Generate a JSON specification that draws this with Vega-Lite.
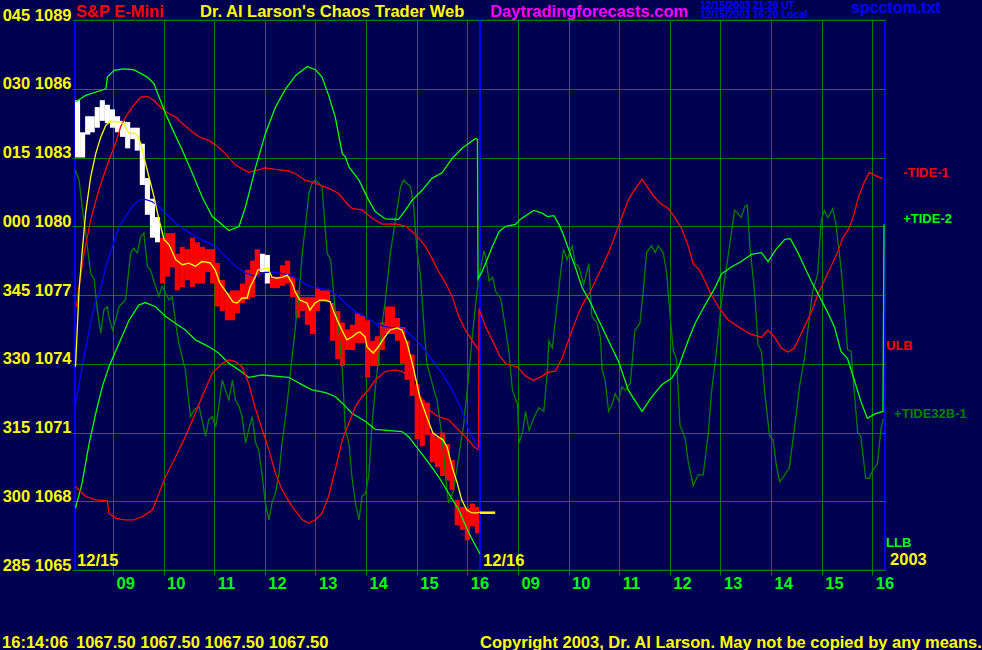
{
  "$schema": "https://vega.github.io/schema/vega-lite/v6.json",
  "width": 810,
  "height": 550,
  "autosize": {"type": "none"},
  "padding": {"left": 75, "top": 20, "right": 97, "bottom": 80},
  "background": "#000050",
  "config": {
    "view": {"stroke": "#0000ff", "strokeWidth": 2},
    "font": "Liberation Sans"
  },
  "datasets": {
    "barsW": [
      {"t": 8.30, "hi": 1085.5, "lo": 1083.0},
      {"t": 8.40, "hi": 1084.1, "lo": 1083.0},
      {"t": 8.50, "hi": 1084.8, "lo": 1084.0},
      {"t": 8.59, "hi": 1084.8, "lo": 1084.1},
      {"t": 8.69, "hi": 1085.2, "lo": 1084.3},
      {"t": 8.79, "hi": 1085.5, "lo": 1084.6},
      {"t": 8.89, "hi": 1085.3, "lo": 1084.5},
      {"t": 8.99, "hi": 1085.1, "lo": 1084.3},
      {"t": 9.09, "hi": 1084.8, "lo": 1084.1},
      {"t": 9.19, "hi": 1084.6, "lo": 1083.9},
      {"t": 9.29, "hi": 1084.55, "lo": 1083.4},
      {"t": 9.39, "hi": 1084.3, "lo": 1083.8},
      {"t": 9.48, "hi": 1084.3, "lo": 1083.3},
      {"t": 9.58, "hi": 1083.6, "lo": 1081.8},
      {"t": 9.68, "hi": 1082.1, "lo": 1080.5},
      {"t": 9.78, "hi": 1081.2, "lo": 1079.5},
      {"t": 9.88, "hi": 1080.4, "lo": 1079.3},
      {"t": 11.95, "hi": 1078.8, "lo": 1078.0},
      {"t": 12.05, "hi": 1078.75, "lo": 1077.5}
    ],
    "barsR": [
      {"t": 9.98, "hi": 1079.5, "lo": 1077.5},
      {"t": 10.08, "hi": 1079.7, "lo": 1077.8},
      {"t": 10.18, "hi": 1079.7, "lo": 1078.2},
      {"t": 10.27, "hi": 1078.8, "lo": 1077.2},
      {"t": 10.37, "hi": 1079.1, "lo": 1077.35},
      {"t": 10.47, "hi": 1079.0, "lo": 1077.65},
      {"t": 10.57, "hi": 1079.5, "lo": 1077.35},
      {"t": 10.67, "hi": 1079.3, "lo": 1077.5},
      {"t": 10.77, "hi": 1079.1, "lo": 1077.5},
      {"t": 10.87, "hi": 1079.0, "lo": 1078.0},
      {"t": 10.97, "hi": 1079.0, "lo": 1077.5},
      {"t": 11.06, "hi": 1078.4, "lo": 1076.5},
      {"t": 11.16, "hi": 1077.65, "lo": 1076.3},
      {"t": 11.26, "hi": 1077.1, "lo": 1075.9},
      {"t": 11.36, "hi": 1077.2, "lo": 1075.9},
      {"t": 11.46, "hi": 1077.2, "lo": 1076.2},
      {"t": 11.56, "hi": 1077.5, "lo": 1076.65},
      {"t": 11.66, "hi": 1078.1, "lo": 1076.8},
      {"t": 11.76, "hi": 1078.5, "lo": 1076.9},
      {"t": 11.85, "hi": 1079.0, "lo": 1077.8},
      {"t": 12.15, "hi": 1077.8, "lo": 1077.3},
      {"t": 12.25, "hi": 1077.8, "lo": 1077.3},
      {"t": 12.35, "hi": 1078.3, "lo": 1077.4},
      {"t": 12.45, "hi": 1078.5, "lo": 1077.5},
      {"t": 12.55, "hi": 1077.8, "lo": 1076.9},
      {"t": 12.65, "hi": 1077.2, "lo": 1076.0},
      {"t": 12.74, "hi": 1076.9, "lo": 1076.3},
      {"t": 12.84, "hi": 1076.9, "lo": 1075.7},
      {"t": 12.94, "hi": 1076.9, "lo": 1075.3},
      {"t": 13.04, "hi": 1077.3, "lo": 1076.3},
      {"t": 13.14, "hi": 1077.2, "lo": 1076.7},
      {"t": 13.24, "hi": 1077.2, "lo": 1076.7},
      {"t": 13.34, "hi": 1076.65, "lo": 1075.0},
      {"t": 13.44, "hi": 1076.3, "lo": 1074.2},
      {"t": 13.53, "hi": 1075.8, "lo": 1073.9},
      {"t": 13.63, "hi": 1075.5, "lo": 1074.6},
      {"t": 13.73, "hi": 1075.7, "lo": 1074.6},
      {"t": 13.83, "hi": 1076.2, "lo": 1074.9},
      {"t": 13.93, "hi": 1076.1, "lo": 1074.9},
      {"t": 14.03, "hi": 1075.9, "lo": 1073.4},
      {"t": 14.13, "hi": 1075.0, "lo": 1073.9},
      {"t": 14.22, "hi": 1075.2, "lo": 1073.9},
      {"t": 14.32, "hi": 1075.8, "lo": 1074.6},
      {"t": 14.42, "hi": 1076.5, "lo": 1075.3},
      {"t": 14.52, "hi": 1076.5, "lo": 1075.3},
      {"t": 14.62, "hi": 1076.0, "lo": 1075.0},
      {"t": 14.72, "hi": 1075.6, "lo": 1074.0},
      {"t": 14.81, "hi": 1075.0, "lo": 1073.3},
      {"t": 14.91, "hi": 1074.4, "lo": 1072.6},
      {"t": 15.01, "hi": 1073.1, "lo": 1070.7},
      {"t": 15.11, "hi": 1072.4, "lo": 1070.4},
      {"t": 15.21, "hi": 1072.3, "lo": 1070.9},
      {"t": 15.31, "hi": 1071.0, "lo": 1069.7},
      {"t": 15.41, "hi": 1070.8, "lo": 1069.5},
      {"t": 15.51, "hi": 1071.0, "lo": 1069.1},
      {"t": 15.61, "hi": 1070.5, "lo": 1068.9},
      {"t": 15.70, "hi": 1069.8, "lo": 1068.5},
      {"t": 15.80, "hi": 1068.05, "lo": 1066.95},
      {"t": 15.90, "hi": 1067.75, "lo": 1066.75},
      {"t": 16.00, "hi": 1067.7, "lo": 1066.3},
      {"t": 16.10, "hi": 1067.9, "lo": 1066.9},
      {"t": 16.20, "hi": 1067.75, "lo": 1066.6}
    ],
    "lines": [
      {"s": "+TIDE32B-1", "t": 8.26, "p": 1082.45}, {"s": "+TIDE32B-1", "t": 8.33, "p": 1082.01}, {"s": "+TIDE32B-1", "t": 8.39, "p": 1080.86}, {"s": "+TIDE32B-1", "t": 8.46, "p": 1079.70}, {"s": "+TIDE32B-1", "t": 8.56, "p": 1077.96}, {"s": "+TIDE32B-1", "t": 8.63, "p": 1077.67}, {"s": "+TIDE32B-1", "t": 8.69, "p": 1076.35}, {"s": "+TIDE32B-1", "t": 8.76, "p": 1075.33}, {"s": "+TIDE32B-1", "t": 8.82, "p": 1076.35}, {"s": "+TIDE32B-1", "t": 8.89, "p": 1076.49}, {"s": "+TIDE32B-1", "t": 8.92, "p": 1076.06}, {"s": "+TIDE32B-1", "t": 8.99, "p": 1075.47}, {"s": "+TIDE32B-1", "t": 9.05, "p": 1075.91}, {"s": "+TIDE32B-1", "t": 9.12, "p": 1076.49}, {"s": "+TIDE32B-1", "t": 9.18, "p": 1076.64}, {"s": "+TIDE32B-1", "t": 9.25, "p": 1076.80}, {"s": "+TIDE32B-1", "t": 9.35, "p": 1078.83}, {"s": "+TIDE32B-1", "t": 9.41, "p": 1079.04}, {"s": "+TIDE32B-1", "t": 9.48, "p": 1078.83}, {"s": "+TIDE32B-1", "t": 9.55, "p": 1079.55}, {"s": "+TIDE32B-1", "t": 9.61, "p": 1079.70}, {"s": "+TIDE32B-1", "t": 9.68, "p": 1078.25}, {"s": "+TIDE32B-1", "t": 9.74, "p": 1078.10}, {"s": "+TIDE32B-1", "t": 9.84, "p": 1077.38}, {"s": "+TIDE32B-1", "t": 9.91, "p": 1076.94}, {"s": "+TIDE32B-1", "t": 9.97, "p": 1077.38}, {"s": "+TIDE32B-1", "t": 10.11, "p": 1076.78}, {"s": "+TIDE32B-1", "t": 10.17, "p": 1076.93}, {"s": "+TIDE32B-1", "t": 10.24, "p": 1075.76}, {"s": "+TIDE32B-1", "t": 10.30, "p": 1074.89}, {"s": "+TIDE32B-1", "t": 10.43, "p": 1073.73}, {"s": "+TIDE32B-1", "t": 10.53, "p": 1071.69}, {"s": "+TIDE32B-1", "t": 10.60, "p": 1071.99}, {"s": "+TIDE32B-1", "t": 10.70, "p": 1072.13}, {"s": "+TIDE32B-1", "t": 10.76, "p": 1071.55}, {"s": "+TIDE32B-1", "t": 10.83, "p": 1070.82}, {"s": "+TIDE32B-1", "t": 10.89, "p": 1071.55}, {"s": "+TIDE32B-1", "t": 10.96, "p": 1071.69}, {"s": "+TIDE32B-1", "t": 11.03, "p": 1071.26}, {"s": "+TIDE32B-1", "t": 11.09, "p": 1072.13}, {"s": "+TIDE32B-1", "t": 11.16, "p": 1073.29}, {"s": "+TIDE32B-1", "t": 11.22, "p": 1072.86}, {"s": "+TIDE32B-1", "t": 11.29, "p": 1072.42}, {"s": "+TIDE32B-1", "t": 11.36, "p": 1073.29}, {"s": "+TIDE32B-1", "t": 11.42, "p": 1072.42}, {"s": "+TIDE32B-1", "t": 11.49, "p": 1072.13}, {"s": "+TIDE32B-1", "t": 11.55, "p": 1071.69}, {"s": "+TIDE32B-1", "t": 11.62, "p": 1070.53}, {"s": "+TIDE32B-1", "t": 11.68, "p": 1071.11}, {"s": "+TIDE32B-1", "t": 11.75, "p": 1071.69}, {"s": "+TIDE32B-1", "t": 11.82, "p": 1070.53}, {"s": "+TIDE32B-1", "t": 11.88, "p": 1070.24}, {"s": "+TIDE32B-1", "t": 11.95, "p": 1069.08}, {"s": "+TIDE32B-1", "t": 12.01, "p": 1067.92}, {"s": "+TIDE32B-1", "t": 12.08, "p": 1067.19}, {"s": "+TIDE32B-1", "t": 12.14, "p": 1067.92}, {"s": "+TIDE32B-1", "t": 12.21, "p": 1068.35}, {"s": "+TIDE32B-1", "t": 12.28, "p": 1069.22}, {"s": "+TIDE32B-1", "t": 12.34, "p": 1070.53}, {"s": "+TIDE32B-1", "t": 12.41, "p": 1071.69}, {"s": "+TIDE32B-1", "t": 12.47, "p": 1072.86}, {"s": "+TIDE32B-1", "t": 12.54, "p": 1074.31}, {"s": "+TIDE32B-1", "t": 12.61, "p": 1075.76}, {"s": "+TIDE32B-1", "t": 12.67, "p": 1076.93}, {"s": "+TIDE32B-1", "t": 12.74, "p": 1078.83}, {"s": "+TIDE32B-1", "t": 12.80, "p": 1079.99}, {"s": "+TIDE32B-1", "t": 12.87, "p": 1081.43}, {"s": "+TIDE32B-1", "t": 12.93, "p": 1081.87}, {"s": "+TIDE32B-1", "t": 13.00, "p": 1082.01}, {"s": "+TIDE32B-1", "t": 13.07, "p": 1081.87}, {"s": "+TIDE32B-1", "t": 13.13, "p": 1081.72}, {"s": "+TIDE32B-1", "t": 13.16, "p": 1080.86}, {"s": "+TIDE32B-1", "t": 13.23, "p": 1078.83}, {"s": "+TIDE32B-1", "t": 13.30, "p": 1078.54}, {"s": "+TIDE32B-1", "t": 13.39, "p": 1076.35}, {"s": "+TIDE32B-1", "t": 13.46, "p": 1075.47}, {"s": "+TIDE32B-1", "t": 13.53, "p": 1073.73}, {"s": "+TIDE32B-1", "t": 13.59, "p": 1071.11}, {"s": "+TIDE32B-1", "t": 13.66, "p": 1070.53}, {"s": "+TIDE32B-1", "t": 13.72, "p": 1069.08}, {"s": "+TIDE32B-1", "t": 13.79, "p": 1067.92}, {"s": "+TIDE32B-1", "t": 13.86, "p": 1067.19}, {"s": "+TIDE32B-1", "t": 13.92, "p": 1068.21}, {"s": "+TIDE32B-1", "t": 13.99, "p": 1068.35}, {"s": "+TIDE32B-1", "t": 14.05, "p": 1069.08}, {"s": "+TIDE32B-1", "t": 14.12, "p": 1071.40}, {"s": "+TIDE32B-1", "t": 14.18, "p": 1072.86}, {"s": "+TIDE32B-1", "t": 14.25, "p": 1074.31}, {"s": "+TIDE32B-1", "t": 14.32, "p": 1075.76}, {"s": "+TIDE32B-1", "t": 14.38, "p": 1076.78}, {"s": "+TIDE32B-1", "t": 14.48, "p": 1078.83}, {"s": "+TIDE32B-1", "t": 14.58, "p": 1080.28}, {"s": "+TIDE32B-1", "t": 14.68, "p": 1081.72}, {"s": "+TIDE32B-1", "t": 14.74, "p": 1082.01}, {"s": "+TIDE32B-1", "t": 14.81, "p": 1081.87}, {"s": "+TIDE32B-1", "t": 14.88, "p": 1081.72}, {"s": "+TIDE32B-1", "t": 14.94, "p": 1080.86}, {"s": "+TIDE32B-1", "t": 15.01, "p": 1078.83}, {"s": "+TIDE32B-1", "t": 15.07, "p": 1077.96}, {"s": "+TIDE32B-1", "t": 15.14, "p": 1075.76}, {"s": "+TIDE32B-1", "t": 15.20, "p": 1074.02}, {"s": "+TIDE32B-1", "t": 15.34, "p": 1072.86}, {"s": "+TIDE32B-1", "t": 15.40, "p": 1072.42}, {"s": "+TIDE32B-1", "t": 15.50, "p": 1070.82}, {"s": "+TIDE32B-1", "t": 15.57, "p": 1069.08}, {"s": "+TIDE32B-1", "t": 15.63, "p": 1067.92}, {"s": "+TIDE32B-1", "t": 15.73, "p": 1068.50}, {"s": "+TIDE32B-1", "t": 15.83, "p": 1069.95}, {"s": "+TIDE32B-1", "t": 15.93, "p": 1071.40}, {"s": "+TIDE32B-1", "t": 16.03, "p": 1073.58}, {"s": "+TIDE32B-1", "t": 16.09, "p": 1075.04}, {"s": "+TIDE32B-1", "t": 16.16, "p": 1076.49}, {"s": "+TIDE32B-1", "t": 16.22, "p": 1077.70},
      {"s": "+TIDE32B-1", "t": 16.33, "p": 1078.92}, {"s": "+TIDE32B-1", "t": 16.36, "p": 1078.69}, {"s": "+TIDE32B-1", "t": 16.43, "p": 1077.62}, {"s": "+TIDE32B-1", "t": 16.50, "p": 1077.77}, {"s": "+TIDE32B-1", "t": 16.56, "p": 1077.15}, {"s": "+TIDE32B-1", "t": 16.66, "p": 1076.85}, {"s": "+TIDE32B-1", "t": 16.76, "p": 1075.46}, {"s": "+TIDE32B-1", "t": 16.82, "p": 1074.54}, {"s": "+TIDE32B-1", "t": 16.89, "p": 1072.85}, {"s": "+TIDE32B-1", "t": 16.99, "p": 1072.23}, {"s": "+TIDE32B-1", "t": 17.02, "p": 1070.54}, {"s": "+TIDE32B-1", "t": 17.09, "p": 1071.00}, {"s": "+TIDE32B-1", "t": 17.15, "p": 1071.92}, {"s": "+TIDE32B-1", "t": 17.22, "p": 1071.08}, {"s": "+TIDE32B-1", "t": 17.31, "p": 1071.62}, {"s": "+TIDE32B-1", "t": 17.41, "p": 1072.08}, {"s": "+TIDE32B-1", "t": 17.51, "p": 1071.92}, {"s": "+TIDE32B-1", "t": 17.58, "p": 1073.62}, {"s": "+TIDE32B-1", "t": 17.61, "p": 1075.00}, {"s": "+TIDE32B-1", "t": 17.68, "p": 1074.69}, {"s": "+TIDE32B-1", "t": 17.74, "p": 1075.92}, {"s": "+TIDE32B-1", "t": 17.84, "p": 1077.92}, {"s": "+TIDE32B-1", "t": 17.90, "p": 1079.00}, {"s": "+TIDE32B-1", "t": 17.97, "p": 1078.54}, {"s": "+TIDE32B-1", "t": 18.07, "p": 1079.15}, {"s": "+TIDE32B-1", "t": 18.13, "p": 1078.38}, {"s": "+TIDE32B-1", "t": 18.20, "p": 1078.23}, {"s": "+TIDE32B-1", "t": 18.30, "p": 1077.46}, {"s": "+TIDE32B-1", "t": 18.40, "p": 1078.38}, {"s": "+TIDE32B-1", "t": 18.43, "p": 1077.15}, {"s": "+TIDE32B-1", "t": 18.46, "p": 1076.08}, {"s": "+TIDE32B-1", "t": 18.56, "p": 1075.77}, {"s": "+TIDE32B-1", "t": 18.63, "p": 1075.15}, {"s": "+TIDE32B-1", "t": 18.66, "p": 1073.77}, {"s": "+TIDE32B-1", "t": 18.72, "p": 1073.31}, {"s": "+TIDE32B-1", "t": 18.79, "p": 1071.92}, {"s": "+TIDE32B-1", "t": 18.86, "p": 1072.23}, {"s": "+TIDE32B-1", "t": 18.92, "p": 1072.69}, {"s": "+TIDE32B-1", "t": 18.99, "p": 1072.38}, {"s": "+TIDE32B-1", "t": 19.05, "p": 1073.00}, {"s": "+TIDE32B-1", "t": 19.12, "p": 1072.85}, {"s": "+TIDE32B-1", "t": 19.22, "p": 1073.15}, {"s": "+TIDE32B-1", "t": 19.31, "p": 1075.46}, {"s": "+TIDE32B-1", "t": 19.41, "p": 1075.77}, {"s": "+TIDE32B-1", "t": 19.48, "p": 1077.31}, {"s": "+TIDE32B-1", "t": 19.54, "p": 1078.85}, {"s": "+TIDE32B-1", "t": 19.64, "p": 1079.15}, {"s": "+TIDE32B-1", "t": 19.71, "p": 1078.85}, {"s": "+TIDE32B-1", "t": 19.77, "p": 1079.15}, {"s": "+TIDE32B-1", "t": 19.87, "p": 1078.85}, {"s": "+TIDE32B-1", "t": 19.94, "p": 1077.92}, {"s": "+TIDE32B-1", "t": 20.00, "p": 1076.23}, {"s": "+TIDE32B-1", "t": 20.07, "p": 1074.54}, {"s": "+TIDE32B-1", "t": 20.13, "p": 1074.23}, {"s": "+TIDE32B-1", "t": 20.20, "p": 1071.31}, {"s": "+TIDE32B-1", "t": 20.30, "p": 1070.77}, {"s": "+TIDE32B-1", "t": 20.36, "p": 1069.77}, {"s": "+TIDE32B-1", "t": 20.46, "p": 1068.69}, {"s": "+TIDE32B-1", "t": 20.56, "p": 1069.15}, {"s": "+TIDE32B-1", "t": 20.66, "p": 1069.15}, {"s": "+TIDE32B-1", "t": 20.76, "p": 1071.00}, {"s": "+TIDE32B-1", "t": 20.82, "p": 1072.69}, {"s": "+TIDE32B-1", "t": 20.92, "p": 1074.54}, {"s": "+TIDE32B-1", "t": 21.02, "p": 1076.69}, {"s": "+TIDE32B-1", "t": 21.12, "p": 1078.23}, {"s": "+TIDE32B-1", "t": 21.22, "p": 1079.77}, {"s": "+TIDE32B-1", "t": 21.28, "p": 1080.69}, {"s": "+TIDE32B-1", "t": 21.35, "p": 1080.54}, {"s": "+TIDE32B-1", "t": 21.41, "p": 1080.38}, {"s": "+TIDE32B-1", "t": 21.48, "p": 1080.85}, {"s": "+TIDE32B-1", "t": 21.53, "p": 1080.92}, {"s": "+TIDE32B-1", "t": 21.58, "p": 1079.15}, {"s": "+TIDE32B-1", "t": 21.68, "p": 1077.00}, {"s": "+TIDE32B-1", "t": 21.74, "p": 1074.85}, {"s": "+TIDE32B-1", "t": 21.81, "p": 1074.54}, {"s": "+TIDE32B-1", "t": 21.87, "p": 1072.85}, {"s": "+TIDE32B-1", "t": 21.97, "p": 1070.85}, {"s": "+TIDE32B-1", "t": 22.04, "p": 1070.69}, {"s": "+TIDE32B-1", "t": 22.10, "p": 1069.62}, {"s": "+TIDE32B-1", "t": 22.17, "p": 1068.85}, {"s": "+TIDE32B-1", "t": 22.27, "p": 1069.15}, {"s": "+TIDE32B-1", "t": 22.36, "p": 1069.46}, {"s": "+TIDE32B-1", "t": 22.46, "p": 1071.15}, {"s": "+TIDE32B-1", "t": 22.56, "p": 1073.00}, {"s": "+TIDE32B-1", "t": 22.66, "p": 1074.23}, {"s": "+TIDE32B-1", "t": 22.76, "p": 1076.08}, {"s": "+TIDE32B-1", "t": 22.82, "p": 1077.15}, {"s": "+TIDE32B-1", "t": 22.92, "p": 1077.92}, {"s": "+TIDE32B-1", "t": 22.99, "p": 1080.23}, {"s": "+TIDE32B-1", "t": 23.05, "p": 1080.69}, {"s": "+TIDE32B-1", "t": 23.12, "p": 1080.38}, {"s": "+TIDE32B-1", "t": 23.22, "p": 1080.77}, {"s": "+TIDE32B-1", "t": 23.28, "p": 1080.08}, {"s": "+TIDE32B-1", "t": 23.38, "p": 1078.23}, {"s": "+TIDE32B-1", "t": 23.45, "p": 1076.38}, {"s": "+TIDE32B-1", "t": 23.51, "p": 1074.62}, {"s": "+TIDE32B-1", "t": 23.58, "p": 1074.54}, {"s": "+TIDE32B-1", "t": 23.64, "p": 1072.85}, {"s": "+TIDE32B-1", "t": 23.71, "p": 1071.00}, {"s": "+TIDE32B-1", "t": 23.77, "p": 1070.85}, {"s": "+TIDE32B-1", "t": 23.87, "p": 1069.00}, {"s": "+TIDE32B-1", "t": 23.94, "p": 1069.00}, {"s": "+TIDE32B-1", "t": 24.00, "p": 1069.31}, {"s": "+TIDE32B-1", "t": 24.10, "p": 1069.62}, {"s": "+TIDE32B-1", "t": 24.17, "p": 1071.15}, {"s": "+TIDE32B-1", "t": 24.22, "p": 1071.62},

      {"s": "LLB", "t": 8.26, "p": 1067.70}, {"s": "LLB", "t": 8.39, "p": 1068.79}, {"s": "LLB", "t": 8.53, "p": 1070.53}, {"s": "LLB", "t": 8.66, "p": 1071.84}, {"s": "LLB", "t": 8.79, "p": 1073.00}, {"s": "LLB", "t": 8.92, "p": 1073.87}, {"s": "LLB", "t": 9.12, "p": 1074.89}, {"s": "LLB", "t": 9.32, "p": 1075.91}, {"s": "LLB", "t": 9.51, "p": 1076.56}, {"s": "LLB", "t": 9.64, "p": 1076.67}, {"s": "LLB", "t": 9.84, "p": 1076.49}, {"s": "LLB", "t": 10.04, "p": 1076.06}, {"s": "LLB", "t": 10.24, "p": 1075.76}, {"s": "LLB", "t": 10.43, "p": 1075.47}, {"s": "LLB", "t": 10.63, "p": 1075.04}, {"s": "LLB", "t": 10.89, "p": 1074.75}, {"s": "LLB", "t": 11.09, "p": 1074.46}, {"s": "LLB", "t": 11.29, "p": 1074.02}, {"s": "LLB", "t": 11.49, "p": 1073.73}, {"s": "LLB", "t": 11.68, "p": 1073.41}, {"s": "LLB", "t": 11.95, "p": 1073.51}, {"s": "LLB", "t": 12.14, "p": 1073.47}, {"s": "LLB", "t": 12.47, "p": 1073.41}, {"s": "LLB", "t": 12.74, "p": 1073.08}, {"s": "LLB", "t": 12.93, "p": 1072.86}, {"s": "LLB", "t": 13.20, "p": 1072.74}, {"s": "LLB", "t": 13.39, "p": 1072.57}, {"s": "LLB", "t": 13.53, "p": 1072.28}, {"s": "LLB", "t": 13.72, "p": 1071.84}, {"s": "LLB", "t": 13.99, "p": 1071.48}, {"s": "LLB", "t": 14.18, "p": 1071.14}, {"s": "LLB", "t": 14.71, "p": 1071.04}, {"s": "LLB", "t": 14.84, "p": 1070.82}, {"s": "LLB", "t": 15.04, "p": 1070.24}, {"s": "LLB", "t": 15.24, "p": 1069.66}, {"s": "LLB", "t": 15.43, "p": 1069.08}, {"s": "LLB", "t": 15.63, "p": 1068.35}, {"s": "LLB", "t": 15.83, "p": 1067.63}, {"s": "LLB", "t": 16.03, "p": 1066.61}, {"s": "LLB", "t": 16.25, "p": 1065.70},

      {"s": "ULB", "t": 8.28, "p": 1076.5}, {"s": "ULB", "t": 8.33, "p": 1077.38}, {"s": "ULB", "t": 8.43, "p": 1078.83}, {"s": "ULB", "t": 8.56, "p": 1080.28}, {"s": "ULB", "t": 8.72, "p": 1081.58}, {"s": "ULB", "t": 8.92, "p": 1082.88}, {"s": "ULB", "t": 9.05, "p": 1083.61}, {"s": "ULB", "t": 9.15, "p": 1084.33}, {"s": "ULB", "t": 9.25, "p": 1084.77}, {"s": "ULB", "t": 9.38, "p": 1085.20}, {"s": "ULB", "t": 9.55, "p": 1085.64}, {"s": "ULB", "t": 9.68, "p": 1085.67}, {"s": "ULB", "t": 9.81, "p": 1085.49}, {"s": "ULB", "t": 9.97, "p": 1085.13}, {"s": "ULB", "t": 10.11, "p": 1084.91}, {"s": "ULB", "t": 10.24, "p": 1084.77}, {"s": "ULB", "t": 10.37, "p": 1084.48}, {"s": "ULB", "t": 10.53, "p": 1084.19}, {"s": "ULB", "t": 10.70, "p": 1083.90}, {"s": "ULB", "t": 10.89, "p": 1083.75}, {"s": "ULB", "t": 11.03, "p": 1083.54}, {"s": "ULB", "t": 11.22, "p": 1083.17}, {"s": "ULB", "t": 11.42, "p": 1082.67}, {"s": "ULB", "t": 11.68, "p": 1082.35}, {"s": "ULB", "t": 11.85, "p": 1082.45}, {"s": "ULB", "t": 12.01, "p": 1082.55}, {"s": "ULB", "t": 12.21, "p": 1082.48}, {"s": "ULB", "t": 12.47, "p": 1082.42}, {"s": "ULB", "t": 12.61, "p": 1082.28}, {"s": "ULB", "t": 12.80, "p": 1082.01}, {"s": "ULB", "t": 13.00, "p": 1081.87}, {"s": "ULB", "t": 13.26, "p": 1081.65}, {"s": "ULB", "t": 13.46, "p": 1081.43}, {"s": "ULB", "t": 13.59, "p": 1081.07}, {"s": "ULB", "t": 13.72, "p": 1080.78}, {"s": "ULB", "t": 13.92, "p": 1080.71}, {"s": "ULB", "t": 14.12, "p": 1080.35}, {"s": "ULB", "t": 14.32, "p": 1080.09}, {"s": "ULB", "t": 14.58, "p": 1080.10}, {"s": "ULB", "t": 14.78, "p": 1080.01}, {"s": "ULB", "t": 14.91, "p": 1079.77}, {"s": "ULB", "t": 15.04, "p": 1079.48}, {"s": "ULB", "t": 15.17, "p": 1079.12}, {"s": "ULB", "t": 15.30, "p": 1078.61}, {"s": "ULB", "t": 15.43, "p": 1078.03}, {"s": "ULB", "t": 15.57, "p": 1077.52}, {"s": "ULB", "t": 15.70, "p": 1076.94}, {"s": "ULB", "t": 15.83, "p": 1076.06}, {"s": "ULB", "t": 15.96, "p": 1075.47}, {"s": "ULB", "t": 16.09, "p": 1075.04}, {"s": "ULB", "t": 16.22, "p": 1074.60},

      {"s": "-TIDE-1", "t": 8.26, "p": 1068.64}, {"s": "-TIDE-1", "t": 8.46, "p": 1068.21}, {"s": "-TIDE-1", "t": 8.66, "p": 1068.06}, {"s": "-TIDE-1", "t": 8.89, "p": 1068.02}, {"s": "-TIDE-1", "t": 8.92, "p": 1067.48}, {"s": "-TIDE-1", "t": 9.05, "p": 1067.26}, {"s": "-TIDE-1", "t": 9.22, "p": 1067.19}, {"s": "-TIDE-1", "t": 9.41, "p": 1067.19}, {"s": "-TIDE-1", "t": 9.58, "p": 1067.33}, {"s": "-TIDE-1", "t": 9.78, "p": 1067.63}, {"s": "-TIDE-1", "t": 9.91, "p": 1068.35}, {"s": "-TIDE-1", "t": 10.04, "p": 1069.08}, {"s": "-TIDE-1", "t": 10.24, "p": 1069.95}, {"s": "-TIDE-1", "t": 10.43, "p": 1070.82}, {"s": "-TIDE-1", "t": 10.57, "p": 1071.55}, {"s": "-TIDE-1", "t": 10.76, "p": 1072.57}, {"s": "-TIDE-1", "t": 10.96, "p": 1073.58}, {"s": "-TIDE-1", "t": 11.16, "p": 1074.02}, {"s": "-TIDE-1", "t": 11.29, "p": 1074.17}, {"s": "-TIDE-1", "t": 11.42, "p": 1074.09}, {"s": "-TIDE-1", "t": 11.55, "p": 1073.87}, {"s": "-TIDE-1", "t": 11.68, "p": 1073.15}, {"s": "-TIDE-1", "t": 11.82, "p": 1071.99}, {"s": "-TIDE-1", "t": 11.95, "p": 1071.11}, {"s": "-TIDE-1", "t": 12.08, "p": 1070.24}, {"s": "-TIDE-1", "t": 12.21, "p": 1069.22}, {"s": "-TIDE-1", "t": 12.34, "p": 1068.50}, {"s": "-TIDE-1", "t": 12.54, "p": 1067.77}, {"s": "-TIDE-1", "t": 12.74, "p": 1067.19}, {"s": "-TIDE-1", "t": 12.87, "p": 1067.04}, {"s": "-TIDE-1", "t": 13.00, "p": 1067.19}, {"s": "-TIDE-1", "t": 13.13, "p": 1067.48}, {"s": "-TIDE-1", "t": 13.26, "p": 1068.21}, {"s": "-TIDE-1", "t": 13.39, "p": 1069.37}, {"s": "-TIDE-1", "t": 13.53, "p": 1070.68}, {"s": "-TIDE-1", "t": 13.66, "p": 1071.40}, {"s": "-TIDE-1", "t": 13.79, "p": 1072.13}, {"s": "-TIDE-1", "t": 13.92, "p": 1072.57}, {"s": "-TIDE-1", "t": 14.05, "p": 1072.86}, {"s": "-TIDE-1", "t": 14.18, "p": 1073.29}, {"s": "-TIDE-1", "t": 14.38, "p": 1073.66}, {"s": "-TIDE-1", "t": 14.58, "p": 1073.73}, {"s": "-TIDE-1", "t": 14.71, "p": 1073.66}, {"s": "-TIDE-1", "t": 14.84, "p": 1073.44}, {"s": "-TIDE-1", "t": 15.04, "p": 1072.71}, {"s": "-TIDE-1", "t": 15.24, "p": 1071.99}, {"s": "-TIDE-1", "t": 15.43, "p": 1071.69}, {"s": "-TIDE-1", "t": 15.63, "p": 1071.55}, {"s": "-TIDE-1", "t": 15.76, "p": 1071.26}, {"s": "-TIDE-1", "t": 15.96, "p": 1070.82}, {"s": "-TIDE-1", "t": 16.13, "p": 1070.39}, {"s": "-TIDE-1", "t": 16.22, "p": 1070.24}, {"s": "-TIDE-1", "t": 16.23, "p": 1076.40}, {"s": "-TIDE-1", "t": 16.36, "p": 1075.62}, {"s": "-TIDE-1", "t": 16.50, "p": 1075.00}, {"s": "-TIDE-1", "t": 16.63, "p": 1074.38}, {"s": "-TIDE-1", "t": 16.76, "p": 1074.00}, {"s": "-TIDE-1", "t": 16.99, "p": 1073.85}, {"s": "-TIDE-1", "t": 17.15, "p": 1073.46}, {"s": "-TIDE-1", "t": 17.31, "p": 1073.28}, {"s": "-TIDE-1", "t": 17.48, "p": 1073.46}, {"s": "-TIDE-1", "t": 17.58, "p": 1073.62}, {"s": "-TIDE-1", "t": 17.74, "p": 1073.69}, {"s": "-TIDE-1", "t": 17.87, "p": 1074.23}, {"s": "-TIDE-1", "t": 17.97, "p": 1074.85}, {"s": "-TIDE-1", "t": 18.07, "p": 1075.46}, {"s": "-TIDE-1", "t": 18.20, "p": 1076.23}, {"s": "-TIDE-1", "t": 18.30, "p": 1076.69}, {"s": "-TIDE-1", "t": 18.43, "p": 1077.15}, {"s": "-TIDE-1", "t": 18.53, "p": 1077.62}, {"s": "-TIDE-1", "t": 18.63, "p": 1078.08}, {"s": "-TIDE-1", "t": 18.79, "p": 1078.85}, {"s": "-TIDE-1", "t": 18.92, "p": 1079.62}, {"s": "-TIDE-1", "t": 19.05, "p": 1080.38}, {"s": "-TIDE-1", "t": 19.18, "p": 1081.15}, {"s": "-TIDE-1", "t": 19.31, "p": 1081.62}, {"s": "-TIDE-1", "t": 19.45, "p": 1082.05}, {"s": "-TIDE-1", "t": 19.54, "p": 1081.77}, {"s": "-TIDE-1", "t": 19.68, "p": 1081.31}, {"s": "-TIDE-1", "t": 19.81, "p": 1081.00}, {"s": "-TIDE-1", "t": 19.97, "p": 1080.77}, {"s": "-TIDE-1", "t": 20.10, "p": 1080.38}, {"s": "-TIDE-1", "t": 20.23, "p": 1079.92}, {"s": "-TIDE-1", "t": 20.36, "p": 1079.15}, {"s": "-TIDE-1", "t": 20.46, "p": 1078.38}, {"s": "-TIDE-1", "t": 20.59, "p": 1078.08}, {"s": "-TIDE-1", "t": 20.69, "p": 1077.62}, {"s": "-TIDE-1", "t": 20.82, "p": 1077.00}, {"s": "-TIDE-1", "t": 20.99, "p": 1076.38}, {"s": "-TIDE-1", "t": 21.15, "p": 1075.92}, {"s": "-TIDE-1", "t": 21.35, "p": 1075.62}, {"s": "-TIDE-1", "t": 21.58, "p": 1075.31}, {"s": "-TIDE-1", "t": 21.81, "p": 1075.15}, {"s": "-TIDE-1", "t": 21.94, "p": 1075.46}, {"s": "-TIDE-1", "t": 22.07, "p": 1075.15}, {"s": "-TIDE-1", "t": 22.20, "p": 1074.69}, {"s": "-TIDE-1", "t": 22.33, "p": 1074.51}, {"s": "-TIDE-1", "t": 22.46, "p": 1074.69}, {"s": "-TIDE-1", "t": 22.56, "p": 1075.15}, {"s": "-TIDE-1", "t": 22.66, "p": 1075.62}, {"s": "-TIDE-1", "t": 22.79, "p": 1076.23}, {"s": "-TIDE-1", "t": 22.92, "p": 1077.00}, {"s": "-TIDE-1", "t": 23.05, "p": 1077.62}, {"s": "-TIDE-1", "t": 23.18, "p": 1078.23}, {"s": "-TIDE-1", "t": 23.31, "p": 1078.85}, {"s": "-TIDE-1", "t": 23.41, "p": 1079.46}, {"s": "-TIDE-1", "t": 23.54, "p": 1079.92}, {"s": "-TIDE-1", "t": 23.64, "p": 1080.54}, {"s": "-TIDE-1", "t": 23.71, "p": 1081.15}, {"s": "-TIDE-1", "t": 23.84, "p": 1081.92}, {"s": "-TIDE-1", "t": 23.94, "p": 1082.35}, {"s": "-TIDE-1", "t": 24.04, "p": 1082.23}, {"s": "-TIDE-1", "t": 24.20, "p": 1082.08},

      {"s": "MA", "t": 8.26, "p": 1072.20}, {"s": "MA", "t": 8.39, "p": 1073.87}, {"s": "MA", "t": 8.53, "p": 1075.47}, {"s": "MA", "t": 8.66, "p": 1076.78}, {"s": "MA", "t": 8.72, "p": 1076.94}, {"s": "MA", "t": 8.86, "p": 1078.25}, {"s": "MA", "t": 8.99, "p": 1079.12}, {"s": "MA", "t": 9.12, "p": 1079.99}, {"s": "MA", "t": 9.25, "p": 1080.42}, {"s": "MA", "t": 9.38, "p": 1080.86}, {"s": "MA", "t": 9.51, "p": 1081.14}, {"s": "MA", "t": 9.64, "p": 1081.17}, {"s": "MA", "t": 9.78, "p": 1081.07}, {"s": "MA", "t": 9.91, "p": 1080.86}, {"s": "MA", "t": 10.04, "p": 1080.57}, {"s": "MA", "t": 10.24, "p": 1080.13}, {"s": "MA", "t": 10.43, "p": 1079.84}, {"s": "MA", "t": 10.63, "p": 1079.55}, {"s": "MA", "t": 10.83, "p": 1079.33}, {"s": "MA", "t": 11.03, "p": 1079.12}, {"s": "MA", "t": 11.22, "p": 1078.68}, {"s": "MA", "t": 11.42, "p": 1078.25}, {"s": "MA", "t": 11.62, "p": 1077.96}, {"s": "MA", "t": 11.82, "p": 1077.81}, {"s": "MA", "t": 12.01, "p": 1077.99}, {"s": "MA", "t": 12.21, "p": 1078.00}, {"s": "MA", "t": 12.47, "p": 1077.88}, {"s": "MA", "t": 12.67, "p": 1077.67}, {"s": "MA", "t": 12.87, "p": 1077.38}, {"s": "MA", "t": 13.07, "p": 1077.30}, {"s": "MA", "t": 13.26, "p": 1077.23}, {"s": "MA", "t": 13.46, "p": 1076.94}, {"s": "MA", "t": 13.59, "p": 1076.64}, {"s": "MA", "t": 13.79, "p": 1076.27}, {"s": "MA", "t": 13.99, "p": 1076.06}, {"s": "MA", "t": 14.18, "p": 1075.76}, {"s": "MA", "t": 14.38, "p": 1075.62}, {"s": "MA", "t": 14.58, "p": 1075.55}, {"s": "MA", "t": 14.78, "p": 1075.47}, {"s": "MA", "t": 14.91, "p": 1075.18}, {"s": "MA", "t": 15.11, "p": 1074.75}, {"s": "MA", "t": 15.30, "p": 1074.17}, {"s": "MA", "t": 15.50, "p": 1073.58}, {"s": "MA", "t": 15.70, "p": 1072.86}, {"s": "MA", "t": 15.89, "p": 1071.99}, {"s": "MA", "t": 16.03, "p": 1071.11}, {"s": "MA", "t": 16.16, "p": 1070.53}, {"s": "MA", "t": 16.24, "p": 1070.24},

      {"s": "+TIDE-2", "t": 8.26, "p": 1085.42}, {"s": "+TIDE-2", "t": 8.46, "p": 1085.71}, {"s": "+TIDE-2", "t": 8.86, "p": 1086.00}, {"s": "+TIDE-2", "t": 8.89, "p": 1086.51}, {"s": "+TIDE-2", "t": 9.02, "p": 1086.80}, {"s": "+TIDE-2", "t": 9.22, "p": 1086.87}, {"s": "+TIDE-2", "t": 9.41, "p": 1086.83}, {"s": "+TIDE-2", "t": 9.68, "p": 1086.51}, {"s": "+TIDE-2", "t": 9.81, "p": 1086.22}, {"s": "+TIDE-2", "t": 9.91, "p": 1085.64}, {"s": "+TIDE-2", "t": 10.04, "p": 1084.91}, {"s": "+TIDE-2", "t": 10.17, "p": 1084.26}, {"s": "+TIDE-2", "t": 10.37, "p": 1083.32}, {"s": "+TIDE-2", "t": 10.57, "p": 1082.30}, {"s": "+TIDE-2", "t": 10.76, "p": 1081.29}, {"s": "+TIDE-2", "t": 10.96, "p": 1080.42}, {"s": "+TIDE-2", "t": 11.09, "p": 1080.20}, {"s": "+TIDE-2", "t": 11.29, "p": 1079.81}, {"s": "+TIDE-2", "t": 11.49, "p": 1079.99}, {"s": "+TIDE-2", "t": 11.62, "p": 1080.86}, {"s": "+TIDE-2", "t": 11.82, "p": 1082.59}, {"s": "+TIDE-2", "t": 12.01, "p": 1084.04}, {"s": "+TIDE-2", "t": 12.21, "p": 1085.20}, {"s": "+TIDE-2", "t": 12.41, "p": 1086.00}, {"s": "+TIDE-2", "t": 12.61, "p": 1086.58}, {"s": "+TIDE-2", "t": 12.84, "p": 1086.97}, {"s": "+TIDE-2", "t": 13.00, "p": 1086.83}, {"s": "+TIDE-2", "t": 13.13, "p": 1086.51}, {"s": "+TIDE-2", "t": 13.26, "p": 1085.71}, {"s": "+TIDE-2", "t": 13.39, "p": 1084.77}, {"s": "+TIDE-2", "t": 13.53, "p": 1083.17}, {"s": "+TIDE-2", "t": 13.59, "p": 1083.03}, {"s": "+TIDE-2", "t": 13.66, "p": 1082.59}, {"s": "+TIDE-2", "t": 13.86, "p": 1082.01}, {"s": "+TIDE-2", "t": 14.05, "p": 1081.14}, {"s": "+TIDE-2", "t": 14.18, "p": 1080.64}, {"s": "+TIDE-2", "t": 14.38, "p": 1080.32}, {"s": "+TIDE-2", "t": 14.64, "p": 1080.30}, {"s": "+TIDE-2", "t": 14.78, "p": 1080.71}, {"s": "+TIDE-2", "t": 14.91, "p": 1081.14}, {"s": "+TIDE-2", "t": 15.11, "p": 1081.58}, {"s": "+TIDE-2", "t": 15.30, "p": 1082.09}, {"s": "+TIDE-2", "t": 15.50, "p": 1082.33}, {"s": "+TIDE-2", "t": 15.70, "p": 1082.96}, {"s": "+TIDE-2", "t": 15.89, "p": 1083.39}, {"s": "+TIDE-2", "t": 16.16, "p": 1083.83}, {"s": "+TIDE-2", "t": 16.20, "p": 1083.80}, {"s": "+TIDE-2", "t": 16.21, "p": 1077.70}, {"s": "+TIDE-2", "t": 16.27, "p": 1077.92}, {"s": "+TIDE-2", "t": 16.36, "p": 1078.38}, {"s": "+TIDE-2", "t": 16.50, "p": 1079.15}, {"s": "+TIDE-2", "t": 16.63, "p": 1079.77}, {"s": "+TIDE-2", "t": 16.76, "p": 1080.00}, {"s": "+TIDE-2", "t": 16.95, "p": 1080.08}, {"s": "+TIDE-2", "t": 17.05, "p": 1080.31}, {"s": "+TIDE-2", "t": 17.31, "p": 1080.69}, {"s": "+TIDE-2", "t": 17.48, "p": 1080.57}, {"s": "+TIDE-2", "t": 17.58, "p": 1080.42}, {"s": "+TIDE-2", "t": 17.71, "p": 1080.46}, {"s": "+TIDE-2", "t": 17.81, "p": 1080.08}, {"s": "+TIDE-2", "t": 17.90, "p": 1079.62}, {"s": "+TIDE-2", "t": 18.00, "p": 1079.00}, {"s": "+TIDE-2", "t": 18.13, "p": 1078.23}, {"s": "+TIDE-2", "t": 18.27, "p": 1077.31}, {"s": "+TIDE-2", "t": 18.43, "p": 1076.69}, {"s": "+TIDE-2", "t": 18.59, "p": 1075.92}, {"s": "+TIDE-2", "t": 18.79, "p": 1075.00}, {"s": "+TIDE-2", "t": 18.99, "p": 1074.08}, {"s": "+TIDE-2", "t": 19.18, "p": 1072.85}, {"s": "+TIDE-2", "t": 19.45, "p": 1071.92}, {"s": "+TIDE-2", "t": 19.64, "p": 1072.54}, {"s": "+TIDE-2", "t": 19.84, "p": 1073.08}, {"s": "+TIDE-2", "t": 20.04, "p": 1073.38}, {"s": "+TIDE-2", "t": 20.17, "p": 1073.85}, {"s": "+TIDE-2", "t": 20.36, "p": 1075.00}, {"s": "+TIDE-2", "t": 20.50, "p": 1075.77}, {"s": "+TIDE-2", "t": 20.69, "p": 1076.54}, {"s": "+TIDE-2", "t": 20.89, "p": 1077.31}, {"s": "+TIDE-2", "t": 21.02, "p": 1077.92}, {"s": "+TIDE-2", "t": 21.22, "p": 1078.23}, {"s": "+TIDE-2", "t": 21.41, "p": 1078.46}, {"s": "+TIDE-2", "t": 21.61, "p": 1078.77}, {"s": "+TIDE-2", "t": 21.81, "p": 1078.85}, {"s": "+TIDE-2", "t": 21.94, "p": 1078.46}, {"s": "+TIDE-2", "t": 22.10, "p": 1079.00}, {"s": "+TIDE-2", "t": 22.27, "p": 1079.43}, {"s": "+TIDE-2", "t": 22.38, "p": 1079.46}, {"s": "+TIDE-2", "t": 22.53, "p": 1078.85}, {"s": "+TIDE-2", "t": 22.66, "p": 1078.23}, {"s": "+TIDE-2", "t": 22.79, "p": 1077.62}, {"s": "+TIDE-2", "t": 22.92, "p": 1077.08}, {"s": "+TIDE-2", "t": 23.12, "p": 1076.23}, {"s": "+TIDE-2", "t": 23.25, "p": 1075.62}, {"s": "+TIDE-2", "t": 23.38, "p": 1074.54}, {"s": "+TIDE-2", "t": 23.51, "p": 1074.23}, {"s": "+TIDE-2", "t": 23.64, "p": 1073.31}, {"s": "+TIDE-2", "t": 23.77, "p": 1072.38}, {"s": "+TIDE-2", "t": 23.90, "p": 1071.62}, {"s": "+TIDE-2", "t": 24.04, "p": 1071.80}, {"s": "+TIDE-2", "t": 24.21, "p": 1071.92}, {"s": "+TIDE-2", "t": 24.23, "p": 1080.08}
    ],
    "avg": [
      {"t": 8.26, "p": 1073.87}, {"t": 8.30, "p": 1075.76}, {"t": 8.33, "p": 1077.22}, {"t": 8.39, "p": 1078.83}, {"t": 8.46, "p": 1080.57}, {"t": 8.56, "p": 1082.16}, {"t": 8.66, "p": 1083.17}, {"t": 8.76, "p": 1083.90}, {"t": 8.86, "p": 1084.41}, {"t": 8.95, "p": 1084.58}, {"t": 9.12, "p": 1084.55}, {"t": 9.22, "p": 1084.45}, {"t": 9.32, "p": 1084.04}, {"t": 9.41, "p": 1084.07}, {"t": 9.48, "p": 1083.97}, {"t": 9.55, "p": 1083.61}, {"t": 9.61, "p": 1083.03}, {"t": 9.71, "p": 1082.16}, {"t": 9.81, "p": 1081.29}, {"t": 9.91, "p": 1080.28}, {"t": 10.01, "p": 1079.41}, {"t": 10.11, "p": 1079.19}, {"t": 10.24, "p": 1078.54}, {"t": 10.37, "p": 1078.32}, {"t": 10.50, "p": 1078.39}, {"t": 10.63, "p": 1078.25}, {"t": 10.76, "p": 1078.46}, {"t": 10.92, "p": 1078.40}, {"t": 11.02, "p": 1078.09}, {"t": 11.11, "p": 1077.52}, {"t": 11.25, "p": 1077.09}, {"t": 11.37, "p": 1076.70}, {"t": 11.45, "p": 1076.65}, {"t": 11.55, "p": 1076.87}, {"t": 11.65, "p": 1076.87}, {"t": 11.71, "p": 1077.35}, {"t": 11.81, "p": 1077.78}, {"t": 11.86, "p": 1078.09}, {"t": 11.96, "p": 1078.13}, {"t": 12.06, "p": 1078.18}, {"t": 12.14, "p": 1077.78}, {"t": 12.24, "p": 1077.74}, {"t": 12.36, "p": 1077.78}, {"t": 12.44, "p": 1077.87}, {"t": 12.54, "p": 1077.52}, {"t": 12.60, "p": 1077.13}, {"t": 12.69, "p": 1076.78}, {"t": 12.83, "p": 1076.65}, {"t": 12.89, "p": 1076.34}, {"t": 12.99, "p": 1076.65}, {"t": 13.09, "p": 1076.78}, {"t": 13.19, "p": 1076.78}, {"t": 13.29, "p": 1076.70}, {"t": 13.35, "p": 1076.34}, {"t": 13.43, "p": 1075.91}, {"t": 13.52, "p": 1075.47}, {"t": 13.62, "p": 1075.04}, {"t": 13.72, "p": 1075.17}, {"t": 13.82, "p": 1075.34}, {"t": 13.88, "p": 1075.39}, {"t": 13.98, "p": 1075.17}, {"t": 14.02, "p": 1074.73}, {"t": 14.08, "p": 1074.60}, {"t": 14.14, "p": 1074.47}, {"t": 14.24, "p": 1074.73}, {"t": 14.33, "p": 1075.04}, {"t": 14.47, "p": 1075.47}, {"t": 14.61, "p": 1075.56}, {"t": 14.71, "p": 1075.47}, {"t": 14.81, "p": 1074.90}, {"t": 14.93, "p": 1073.86}, {"t": 15.06, "p": 1072.55}, {"t": 15.20, "p": 1071.67}, {"t": 15.32, "p": 1070.98}, {"t": 15.52, "p": 1070.67}, {"t": 15.60, "p": 1070.37}, {"t": 15.70, "p": 1069.49}, {"t": 15.80, "p": 1068.80}, {"t": 15.89, "p": 1068.05}, {"t": 15.99, "p": 1067.62}, {"t": 16.09, "p": 1067.49}, {"t": 16.19, "p": 1067.49}, {"t": 16.25, "p": 1067.53}
    ],
    "last": [{"t": 16.25, "p": 1067.5}, {"t": 16.55, "p": 1067.5}]
  },
  "resolve": {"axis": {"x": "shared", "y": "shared"}},
  "layer": [
    {
      "data": {"name": "barsW"},
      "mark": {"type": "rule", "color": "#ffffff", "strokeWidth": 5.1},
      "encoding": {
        "x": {
          "field": "t", "type": "quantitative",
          "scale": {"domain": [8.25, 24.25], "nice": false, "zero": false},
          "axis": {
            "values": [9, 10, 11, 12, 13, 14, 15, 16, 17, 18, 19, 20, 21, 22, 23, 24],
            "labelExpr": "slice('0' + (datum.value > 16.5 ? datum.value - 8 : datum.value), -2)",
            "title": null, "domain": false,
            "grid": true, "gridColor": "#008000", "gridWidth": 1, "gridOpacity": 1,
            "ticks": true, "tickColor": "#008000", "tickSize": 5, "tickWidth": 1,
            "labelColor": "#00ff00", "labelFont": "Liberation Sans", "labelFontWeight": "bold", "labelFontSize": 16.5,
            "labelAlign": "left", "labelBaseline": "top", "labelPadding": 0, "labelOffset": 3,
            "labelFlush": false, "labelOverlap": false, "labelBound": false
          }
        },
        "y": {
          "field": "hi", "type": "quantitative",
          "scale": {"domain": [1065, 1089], "nice": false, "zero": false},
          "axis": {
            "values": [1065, 1068, 1071, 1074, 1077, 1080, 1083, 1086, 1089],
            "labelExpr": "slice('00' + (((datum.value - 1080) * 5 + 360) % 360), -3) + ' ' + datum.value",
            "title": null, "domain": false,
            "grid": true, "gridColor": "#008000", "gridWidth": 1, "gridOpacity": 1,
            "ticks": true, "tickColor": "#008000", "tickSize": 3, "tickWidth": 1,
            "labelColor": "#ffff00", "labelFont": "Liberation Sans", "labelFontWeight": "bold", "labelFontSize": 16.5,
            "labelAlign": "right", "labelBaseline": "alphabetic", "labelPadding": 1,
            "labelFlush": false, "labelOverlap": false, "labelBound": false
          }
        },
        "y2": {"field": "lo"}
      }
    },
    {
      "data": {"name": "barsR"},
      "mark": {"type": "rule", "color": "#ff0000", "strokeWidth": 5.1},
      "encoding": {
        "x": {"field": "t", "type": "quantitative", "scale": {"domain": [8.25, 24.25], "nice": false, "zero": false}},
        "y": {"field": "hi", "type": "quantitative", "scale": {"domain": [1065, 1089], "nice": false, "zero": false}},
        "y2": {"field": "lo"}
      }
    },
    {
      "data": {"values": [{"t": 16.25}]},
      "mark": {"type": "rule", "color": "#0000ff", "strokeWidth": 2},
      "encoding": {
        "x": {"field": "t", "type": "quantitative", "scale": {"domain": [8.25, 24.25], "nice": false, "zero": false}}
      }
    },
    {
      "data": {"name": "lines"},
      "mark": {"type": "line", "strokeWidth": 1.3, "interpolate": "linear"},
      "encoding": {
        "x": {"field": "t", "type": "quantitative", "scale": {"domain": [8.25, 24.25], "nice": false, "zero": false}},
        "y": {"field": "p", "type": "quantitative", "scale": {"domain": [1065, 1089], "nice": false, "zero": false}},
        "color": {
          "field": "s", "type": "nominal", "legend": null,
          "scale": {"domain": ["+TIDE32B-1", "LLB", "ULB", "-TIDE-1", "MA", "+TIDE-2"], "range": ["#008000", "#00ff00", "#ff0000", "#ff0000", "#0000ff", "#00ff00"]}
        }
      }
    },
    {
      "data": {"name": "avg"},
      "mark": {"type": "line", "strokeWidth": 1.3, "color": "#ffff00"},
      "encoding": {
        "x": {"field": "t", "type": "quantitative", "scale": {"domain": [8.25, 24.25], "nice": false, "zero": false}},
        "y": {"field": "p", "type": "quantitative", "scale": {"domain": [1065, 1089], "nice": false, "zero": false}}
      }
    },
    {
      "data": {"name": "last"},
      "mark": {"type": "line", "strokeWidth": 2.5, "color": "#ffff00"},
      "encoding": {
        "x": {"field": "t", "type": "quantitative", "scale": {"domain": [8.25, 24.25], "nice": false, "zero": false}},
        "y": {"field": "p", "type": "quantitative", "scale": {"domain": [1065, 1089], "nice": false, "zero": false}}
      }
    },
    {
      "data": {"values": [
        {"t": 10.72, "p": 1089.13, "label": "Dr. Al Larson's Chaos Trader Web"},
        {"t": 8.29, "p": 1065.17, "label": "12/15"},
        {"t": 16.31, "p": 1065.17, "label": "12/16"},
        {"t": 24.35, "p": 1065.2, "label": "2003"},
        {"t": 6.81, "p": 1061.6, "label": "16:14:06"},
        {"t": 8.27, "p": 1061.6, "label": "1067.50 1067.50 1067.50 1067.50"},
        {"t": 16.25, "p": 1061.6, "label": "Copyright 2003, Dr. Al Larson. May not be copied by any means."}
      ]},
      "mark": {"type": "text", "align": "left", "baseline": "alphabetic", "font": "Liberation Sans", "fontWeight": "bold", "fontSize": 16.5, "color": "#ffff00"},
      "encoding": {
        "x": {"field": "t", "type": "quantitative", "scale": {"domain": [8.25, 24.25], "nice": false, "zero": false}},
        "y": {"field": "p", "type": "quantitative", "scale": {"domain": [1065, 1089], "nice": false, "zero": false}},
        "text": {"field": "label"}
      }
    },
    {
      "data": {"values": [{"t": 8.27, "p": 1089.13, "label": "S&P E-Mini"}]},
      "mark": {"type": "text", "align": "left", "baseline": "alphabetic", "font": "Liberation Sans", "fontWeight": "bold", "fontSize": 16.5, "color": "#ff0000"},
      "encoding": {
        "x": {"field": "t", "type": "quantitative", "scale": {"domain": [8.25, 24.25], "nice": false, "zero": false}},
        "y": {"field": "p", "type": "quantitative", "scale": {"domain": [1065, 1089], "nice": false, "zero": false}},
        "text": {"field": "label"}
      }
    },
    {
      "data": {"values": [{"t": 16.45, "p": 1089.13, "label": "Daytradingforecasts.com"}]},
      "mark": {"type": "text", "align": "left", "baseline": "alphabetic", "font": "Liberation Sans", "fontWeight": "bold", "fontSize": 16.5, "color": "#ff00ff"},
      "encoding": {
        "x": {"field": "t", "type": "quantitative", "scale": {"domain": [8.25, 24.25], "nice": false, "zero": false}},
        "y": {"field": "p", "type": "quantitative", "scale": {"domain": [1065, 1089], "nice": false, "zero": false}},
        "text": {"field": "label"}
      }
    },
    {
      "data": {"values": [{"t": 23.58, "p": 1089.31, "label": "spcctom.txt"}]},
      "mark": {"type": "text", "align": "left", "baseline": "alphabetic", "font": "Liberation Sans", "fontWeight": "bold", "fontSize": 16, "color": "#0000ff"},
      "encoding": {
        "x": {"field": "t", "type": "quantitative", "scale": {"domain": [8.25, 24.25], "nice": false, "zero": false}},
        "y": {"field": "p", "type": "quantitative", "scale": {"domain": [1065, 1089], "nice": false, "zero": false}},
        "text": {"field": "label"}
      }
    },
    {
      "data": {"values": [
        {"t": 20.6, "p": 1089.5, "label": "12/15/2003 21:20 UT"},
        {"t": 20.6, "p": 1089.1, "label": "12/15/2003 16:20 Local"}
      ]},
      "mark": {"type": "text", "align": "left", "baseline": "alphabetic", "font": "Liberation Sans", "fontWeight": "bold", "fontSize": 10, "color": "#0000ff"},
      "encoding": {
        "x": {"field": "t", "type": "quantitative", "scale": {"domain": [8.25, 24.25], "nice": false, "zero": false}},
        "y": {"field": "p", "type": "quantitative", "scale": {"domain": [1065, 1089], "nice": false, "zero": false}},
        "text": {"field": "label"}
      }
    },
    {
      "data": {"values": [
        {"t": 24.61, "p": 1082.15, "label": "-TIDE-1"},
        {"t": 24.27, "p": 1074.6, "label": "ULB"}
      ]},
      "mark": {"type": "text", "align": "left", "baseline": "alphabetic", "font": "Liberation Sans", "fontWeight": "bold", "fontSize": 13, "color": "#ff0000"},
      "encoding": {
        "x": {"field": "t", "type": "quantitative", "scale": {"domain": [8.25, 24.25], "nice": false, "zero": false}},
        "y": {"field": "p", "type": "quantitative", "scale": {"domain": [1065, 1089], "nice": false, "zero": false}},
        "text": {"field": "label"}
      }
    },
    {
      "data": {"values": [
        {"t": 24.61, "p": 1080.14, "label": "+TIDE-2"},
        {"t": 24.27, "p": 1066.02, "label": "LLB"}
      ]},
      "mark": {"type": "text", "align": "left", "baseline": "alphabetic", "font": "Liberation Sans", "fontWeight": "bold", "fontSize": 13, "color": "#00ff00"},
      "encoding": {
        "x": {"field": "t", "type": "quantitative", "scale": {"domain": [8.25, 24.25], "nice": false, "zero": false}},
        "y": {"field": "p", "type": "quantitative", "scale": {"domain": [1065, 1089], "nice": false, "zero": false}},
        "text": {"field": "label"}
      }
    },
    {
      "data": {"values": [{"t": 24.43, "p": 1071.63, "label": "+TIDE32B-1"}]},
      "mark": {"type": "text", "align": "left", "baseline": "alphabetic", "font": "Liberation Sans", "fontWeight": "bold", "fontSize": 13, "color": "#008000"},
      "encoding": {
        "x": {"field": "t", "type": "quantitative", "scale": {"domain": [8.25, 24.25], "nice": false, "zero": false}},
        "y": {"field": "p", "type": "quantitative", "scale": {"domain": [1065, 1089], "nice": false, "zero": false}},
        "text": {"field": "label"}
      }
    }
  ]
}
